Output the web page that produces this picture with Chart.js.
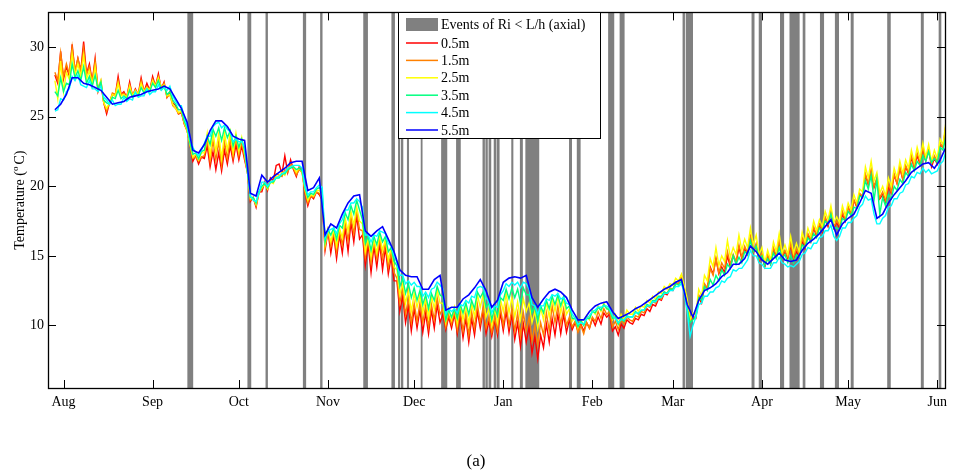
<!DOCTYPE html>
<html>
<head>
<meta charset="utf-8">
<script src="https://cdn.jsdelivr.net/npm/chart.js@4.4.0/dist/chart.umd.min.js"></script>
<style>
  html, body { margin: 0; padding: 0; background: #fff; }
  canvas { display: block; }
</style>
</head>
<body>
<canvas id="chart" width="953" height="476"></canvas>
<script>
const FONT = '"Liberation Serif", "Times New Roman", serif';

// x = days since 1 Aug, first sample 3 days before; shallow sensors read daily, 5.5m every 2 days
const dayStart = -3;

const t05 = [
  28.0,27.4,29.7,27.7,28.6,27.9,30.2,28.2,29.2,28.3,30.4,28.1,28.8,27.5,29.2,26.8,27.4,26.0,25.2,26.0,
  26.6,26.5,27.9,26.6,26.8,26.4,27.5,26.5,27.0,26.6,27.8,26.8,27.4,26.9,27.9,27.2,28.1,27.0,27.5,26.4,
  26.8,26.0,25.8,25.2,25.3,24.5,24.0,23.0,21.8,22.2,21.6,22.1,22.0,22.9,21.4,22.5,21.2,22.4,21.1,22.6,
  21.6,22.9,21.8,23.0,21.9,22.9,21.9,21.0,18.9,19.2,18.5,19.6,19.6,20.3,19.7,20.6,20.4,21.5,21.6,20.9,
  22.2,21.0,21.9,21.2,20.7,21.4,21.2,19.5,18.6,19.3,19.1,19.6,19.4,19.0,15.4,16.8,15.2,16.5,14.8,16.5,
  15.2,17.0,15.3,17.4,16.0,17.9,16.2,16.5,14.3,15.8,13.8,15.7,14.2,15.9,14.0,15.6,13.7,14.9,13.2,13.2,
  11.0,12.1,10.2,11.4,9.6,11.2,9.8,11.1,9.5,10.9,9.4,11.1,9.8,11.5,10.2,10.8,9.7,10.6,9.8,10.8,
  9.4,10.7,9.1,10.5,8.8,10.5,9.3,11.0,9.8,11.1,9.4,10.3,9.2,10.4,9.3,10.9,9.6,11.0,9.5,10.8,
  9.0,10.2,8.5,10.1,8.8,9.9,8.0,9.2,7.6,9.3,8.4,10.1,8.8,10.5,9.3,10.8,9.4,10.8,9.5,10.4,
  9.7,10.2,9.6,10.1,9.6,10.2,9.8,10.5,10.0,10.6,10.1,10.9,10.6,10.8,9.6,9.9,9.3,10.1,9.8,10.4,
  10.2,10.1,10.5,10.4,10.8,10.7,11.2,11.0,11.5,11.4,11.9,11.8,12.3,12.2,12.6,12.5,13.0,13.0,13.6,12.6,
  11.7,10.3,10.5,10.5,12.0,11.6,12.8,12.7,14.2,13.7,14.8,13.7,14.2,13.8,15.0,14.2,15.0,14.5,15.6,14.8,
  15.5,15.1,16.3,15.2,15.7,14.6,15.0,14.2,14.9,14.4,15.4,14.9,16.0,14.9,15.3,14.8,15.8,14.8,15.3,14.9,
  16.0,15.5,16.5,16.0,17.0,16.4,17.2,16.7,17.6,17.1,18.1,17.0,17.4,17.0,18.0,17.5,18.5,18.0,19.0,18.5,
  19.4,19.2,20.8,20.1,21.1,19.9,20.5,19.1,19.4,18.8,20.0,19.5,20.8,20.2,21.3,20.5,21.4,20.9,22.1,21.3,
  22.2,21.6,22.8,21.8,22.6,21.4,22.0,21.6,23.0,22.8,24.4
];
const t15 = [
  28.2,27.6,29.6,27.9,28.8,28.1,30.0,28.3,29.2,28.3,29.9,28.0,28.6,27.5,29.0,27.0,27.6,26.0,25.4,26.0,
  26.7,26.6,27.6,26.6,26.7,26.4,27.3,26.5,26.9,26.6,27.6,26.8,27.2,26.9,27.7,27.2,27.9,27.1,27.4,26.4,
  26.6,25.8,25.6,25.2,25.4,24.5,24.0,23.0,22.0,22.1,21.8,22.1,22.2,23.5,21.8,23.3,21.9,23.2,21.5,23.2,
  22.0,23.4,22.1,23.5,22.2,23.2,22.1,21.0,19.0,19.1,18.6,19.5,19.8,20.2,19.8,20.4,20.3,20.9,20.8,20.7,
  21.2,21.0,21.6,21.3,20.8,21.2,21.0,19.6,18.8,19.3,19.2,19.6,19.5,19.1,15.6,16.8,15.7,16.7,15.3,16.8,
  15.8,17.4,16.1,17.8,16.6,18.2,16.9,16.8,14.9,16.2,14.5,16.1,14.8,16.2,14.8,16.0,14.2,15.3,13.8,13.4,
  11.6,12.6,10.8,11.9,10.2,11.6,10.3,11.6,10.2,11.4,9.9,11.5,10.4,12.0,10.8,11.2,9.9,10.8,10.1,11.0,
  9.7,11.1,9.6,10.9,9.3,11.0,9.8,11.5,10.2,11.3,9.8,10.6,9.5,10.6,9.6,11.3,10.0,11.5,10.0,11.2,
  9.6,10.9,9.2,10.9,9.6,10.6,8.9,10.0,8.6,10.2,9.3,10.9,9.6,11.4,10.2,11.4,10.1,11.2,10.0,10.6,
  9.9,10.3,9.5,10.0,9.4,10.2,9.8,10.6,10.3,11.0,10.5,11.2,10.8,11.0,9.9,10.3,9.7,10.4,10.1,10.6,
  10.4,10.3,10.7,10.6,11.0,10.9,11.4,11.3,11.7,11.6,12.0,11.9,12.4,12.3,12.7,12.6,13.1,13.0,13.5,12.5,
  11.6,10.3,10.6,10.6,12.2,11.8,13.0,12.7,14.1,13.6,14.8,13.8,14.5,14.1,15.3,14.4,15.1,14.6,15.8,14.9,
  15.7,15.2,16.4,15.3,15.9,14.7,15.2,14.4,15.1,14.5,15.6,15.0,16.1,15.0,15.4,14.9,15.9,14.9,15.5,15.1,
  16.3,15.8,16.6,16.2,17.1,16.5,17.3,16.9,17.8,17.3,18.2,17.1,17.5,17.2,18.2,17.6,18.5,18.0,19.0,18.6,
  19.5,19.3,20.9,20.2,21.2,20.0,20.6,19.2,19.6,19.0,20.2,19.6,20.9,20.2,21.4,20.5,21.5,21.0,22.2,21.4,
  22.4,21.7,22.8,21.9,22.7,21.6,22.2,21.8,23.1,22.8,24.2
];
const t25 = [
  27.6,26.3,29.0,26.8,28.2,27.7,29.5,28.0,28.8,27.9,29.4,27.7,28.3,27.3,28.6,26.9,27.6,26.0,25.6,26.0,
  26.6,26.5,27.4,26.5,26.6,26.4,27.2,26.5,26.9,26.6,27.4,26.8,27.1,26.9,27.6,27.2,27.8,27.1,27.3,26.5,
  26.6,25.9,25.6,25.3,25.4,24.6,24.0,23.0,22.1,22.3,21.9,22.4,22.4,23.8,22.2,23.9,22.5,23.8,22.0,23.8,
  22.6,23.9,22.4,23.8,22.5,23.5,22.3,21.0,19.1,19.2,18.7,19.6,19.9,20.2,19.8,20.3,20.2,20.7,20.7,21.0,
  20.8,21.3,21.4,21.4,21.0,21.3,21.0,19.8,19.0,19.4,19.3,19.7,19.7,19.3,15.8,16.9,16.0,16.9,15.7,17.0,
  16.3,17.7,16.8,18.2,17.2,18.5,17.5,17.3,15.3,16.3,14.9,16.2,15.2,16.5,15.4,16.2,14.7,15.6,14.2,14.0,
  12.2,13.0,11.6,12.5,11.0,12.3,11.3,12.2,10.9,12.0,10.6,12.1,11.2,12.6,11.6,11.6,10.2,11.2,10.4,11.3,
  10.1,11.6,10.4,11.5,10.1,11.6,10.6,12.2,11.3,12.2,10.6,11.2,10.0,11.2,10.2,11.9,11.0,12.3,10.9,12.0,
  10.6,11.7,10.4,11.9,11.0,11.6,10.2,11.0,9.8,11.3,10.4,11.7,10.6,12.0,11.0,12.1,10.9,11.9,10.8,11.2,
  10.3,10.6,9.8,10.4,10.0,10.7,10.4,11.1,10.8,11.4,11.0,11.6,11.2,11.3,10.4,10.8,10.1,10.8,10.4,11.1,
  10.8,10.8,11.3,11.0,11.4,11.3,11.8,11.6,12.1,11.9,12.4,12.3,12.8,12.6,13.0,12.9,13.4,13.2,13.7,12.8,
  11.9,10.4,10.9,10.8,12.6,12.1,13.6,13.2,14.8,14.2,15.6,14.3,15.0,14.6,16.1,14.9,15.6,15.1,16.5,15.4,
  16.2,15.6,17.0,15.8,16.5,15.1,15.6,14.5,15.4,14.7,16.0,15.3,16.6,15.2,15.8,15.1,16.4,15.2,15.9,15.3,
  16.7,16.0,17.0,16.4,17.5,16.8,17.6,17.1,18.2,17.6,18.6,17.4,17.8,17.4,18.6,17.9,18.8,18.3,19.4,18.8,
  19.8,19.6,21.4,20.6,21.8,20.4,21.0,19.5,20.0,19.3,20.6,20.0,21.3,20.6,21.8,20.9,21.9,21.3,22.6,21.7,
  22.8,22.0,23.1,22.1,23.0,21.8,22.6,22.0,23.4,23.0,24.6
];
const t35 = [
  26.8,26.5,27.8,26.8,27.4,27.3,28.8,27.8,28.3,27.6,28.6,27.4,27.9,27.2,28.0,27.0,27.5,26.2,26.0,25.9,
  26.4,26.3,26.9,26.3,26.5,26.3,26.9,26.4,26.7,26.5,27.1,26.7,27.0,26.8,27.4,27.1,27.6,27.0,27.2,26.6,
  26.8,26.2,25.9,25.5,25.5,24.7,24.2,23.1,22.3,22.4,22.0,22.5,22.6,23.6,23.0,24.1,23.6,24.2,23.3,24.2,
  23.5,24.0,22.9,23.6,22.8,23.4,22.6,21.0,19.2,19.2,18.8,19.6,20.0,20.2,19.9,20.3,20.3,20.6,20.6,20.9,
  20.9,21.2,21.3,21.4,21.2,21.3,21.1,19.9,19.2,19.5,19.4,19.8,19.9,19.6,16.0,16.9,16.5,17.0,16.2,17.2,
  17.0,18.1,17.6,18.6,18.0,19.0,18.3,17.6,15.9,16.4,15.4,16.4,15.8,16.7,16.0,16.4,15.3,15.6,14.6,14.3,
  12.8,13.4,12.3,13.0,12.0,12.7,11.8,12.5,11.5,12.2,11.2,12.3,11.8,12.8,12.2,12.0,10.4,11.1,10.6,11.2,
  10.5,11.5,10.9,11.6,10.8,11.8,11.2,12.4,12.0,12.4,11.3,11.6,10.4,11.3,10.7,12.0,11.8,12.6,11.9,12.7,
  12.0,12.6,11.6,12.7,12.2,12.2,10.9,11.4,10.3,11.4,10.9,11.8,11.2,12.1,11.5,12.2,11.4,12.1,11.2,11.4,
  10.5,10.5,9.9,10.3,10.0,10.5,10.5,11.0,10.9,11.3,11.1,11.5,11.2,11.1,10.5,10.6,10.1,10.5,10.3,10.7,
  10.6,10.6,11.0,10.8,11.1,11.1,11.5,11.4,11.8,11.8,12.1,12.1,12.4,12.3,12.6,12.6,13.0,12.9,13.2,12.4,
  11.2,10.2,10.4,10.6,12.0,11.8,12.8,12.5,13.3,12.9,13.6,13.2,14.0,13.6,14.4,14.1,15.0,14.4,14.9,14.5,
  15.3,15.1,16.1,15.3,15.7,14.8,15.0,14.3,14.8,14.4,15.2,14.8,15.6,14.8,15.1,14.5,15.0,14.5,15.1,14.9,
  15.8,15.6,16.3,16.0,16.6,16.3,17.0,16.8,17.5,17.3,18.0,17.0,17.0,16.9,17.7,17.5,18.2,17.9,18.5,18.4,
  19.3,19.2,20.4,19.8,20.8,19.0,20.5,18.0,19.2,18.6,19.4,19.1,20.0,19.7,20.5,20.2,21.0,20.7,21.6,21.1,
  21.8,21.5,22.2,21.8,22.5,21.7,22.0,21.7,22.8,22.6,23.6
];
const t45 = [
  25.4,25.5,26.3,26.2,26.8,27.0,27.9,27.6,28.0,27.3,27.2,27.1,27.6,27.0,27.0,26.8,27.2,26.4,26.2,25.9,
  26.2,25.8,25.9,25.9,26.4,26.1,26.3,26.2,26.8,26.4,26.5,26.5,27.0,26.6,26.8,26.8,27.3,26.9,27.1,26.9,
  27.2,26.5,26.1,25.8,25.8,25.0,24.3,23.4,22.8,22.4,22.2,22.6,23.1,23.6,23.6,24.3,24.5,24.6,24.2,24.4,
  24.1,23.9,23.2,23.4,23.2,23.2,22.8,21.2,19.3,19.0,18.9,19.5,20.3,20.3,20.0,20.3,20.4,20.6,20.7,20.9,
  21.0,21.3,21.4,21.5,21.5,21.5,21.3,20.0,19.4,19.6,19.6,19.9,20.1,19.9,16.3,16.8,16.9,17.0,16.6,17.3,
  17.6,18.3,18.3,18.8,18.8,19.1,18.9,18.5,16.5,16.5,16.0,16.5,16.4,16.8,16.7,16.6,15.9,15.7,15.0,14.5,
  13.6,13.6,13.0,13.2,12.9,13.1,12.8,12.8,12.1,12.4,12.0,12.6,12.7,13.1,12.9,12.6,10.8,11.2,11.0,11.2,
  10.9,11.5,11.4,11.8,11.6,12.1,12.0,12.7,12.8,12.7,12.0,11.7,10.9,11.4,11.3,12.2,12.5,13.0,12.8,13.1,
  12.9,13.1,12.7,13.1,13.0,12.6,11.5,11.4,10.8,11.4,11.4,11.9,11.8,12.2,12.1,12.3,11.9,12.0,11.6,11.5,
  10.8,10.5,10.1,10.2,10.1,10.5,10.7,11.0,11.1,11.3,11.3,11.4,11.4,11.2,10.7,10.5,10.2,10.4,10.4,10.6,
  10.6,10.6,10.9,10.9,11.1,11.1,11.4,11.4,11.7,11.7,12.0,12.0,12.3,12.3,12.5,12.5,12.8,12.8,13.0,12.3,
  11.0,9.2,10.0,10.6,11.5,11.6,12.1,12.1,12.4,12.4,12.7,12.8,13.2,13.1,13.4,13.5,14.0,13.9,14.1,14.1,
  14.4,14.7,15.4,15.0,15.0,14.5,14.4,14.1,14.1,14.1,14.5,14.5,14.9,14.5,14.4,14.2,14.3,14.2,14.4,14.6,
  15.1,15.2,15.6,15.5,15.9,15.9,16.3,16.4,16.8,16.8,17.2,16.4,16.1,16.4,17.0,17.0,17.4,17.4,17.7,17.9,
  18.5,18.7,19.3,19.0,19.1,18.0,17.3,17.3,17.7,17.9,18.5,18.6,19.1,19.1,19.5,19.6,20.1,20.2,20.7,20.6,
  21.0,20.9,21.3,21.0,21.2,20.9,21.0,21.1,21.6,21.8,22.5
];
const t55 = [
  25.5,25.9,26.6,27.8,27.8,27.4,27.3,27.1,26.9,26.4,
  25.9,26.0,26.1,26.4,26.5,26.6,26.8,26.9,27.0,27.2,
  27.0,26.3,25.6,24.6,22.6,22.4,23.0,24.0,24.7,24.7,
  24.3,23.6,23.4,23.3,19.5,19.3,20.8,20.3,20.7,21.0,
  21.3,21.7,21.8,21.8,19.7,19.9,20.6,16.5,17.3,17.0,
  18.0,18.8,19.3,19.4,16.8,16.4,16.8,17.1,16.2,15.3,
  14.0,13.6,13.5,13.5,12.6,12.6,13.3,13.6,11.1,11.3,
  11.3,11.9,12.2,12.7,13.3,12.5,11.3,11.8,13.1,13.4,
  13.5,13.4,13.6,12.0,11.3,11.9,12.4,12.6,12.4,12.0,
  11.1,10.4,10.4,11.0,11.4,11.6,11.7,11.0,10.5,10.7,
  10.9,11.2,11.4,11.7,12.0,12.3,12.6,12.8,13.1,13.3,
  11.5,10.6,11.8,12.5,12.7,13.0,13.5,13.8,14.4,14.4,
  14.8,15.7,15.3,14.7,14.4,14.8,15.2,14.7,14.6,14.7,
  15.4,15.9,16.2,16.6,17.1,17.6,16.5,17.3,17.7,18.0,
  18.8,19.7,19.5,17.7,18.0,18.8,19.4,19.9,20.4,21.0,
  21.3,21.6,21.7,21.3,21.9,22.8
];

// Ri < L/h events, [start day, end day]
const events = [
  [43.2,45.0],[64.1,65.2],[70.4,71.0],[83.4,84.3],[89.4,90.0],[104.4,105.8],
  [114.2,115.2],[116.5,117.0],[117.5,118.1],[119.6,120.1],[124.4,124.8],
  [131.5,133.4],[136.7,138.1],[145.9,146.5],[146.9,147.5],[148.0,148.7],
  [149.8,150.5],[150.9,151.6],[155.9,156.4],[158.9,159.7],[160.8,165.4],
  [176.0,176.8],[178.7,179.8],[189.6,191.5],[193.6,195.1],[215.5,216.1],
  [216.6,218.9],[239.5,240.3],[242.0,242.9],[249.4,250.6],[252.7,256.0],
  [257.3,258.0],[263.3,264.5],[268.5,269.7],[274.0,274.8],[286.7,287.7],
  [298.4,299.2],[304.6,305.3]
];

const monthLabels = ['Aug','Sep','Oct','Nov','Dec','Jan','Feb','Mar','Apr','May','Jun'];
const monthDays   = [0, 31, 61, 92, 122, 153, 184, 212, 243, 273, 304];
const yTicks = [10, 15, 20, 25, 30];

const depthLabels = ['0.5m','1.5m','2.5m','3.5m','4.5m','5.5m'];
const depthColors = ['#ff0000','#ff8000','#ffff00','#00ff80','#00ffff','#0000ff'];
const depthSteps  = [1, 1, 1, 1, 1, 2];
const depthWidths = [1.4, 1.4, 1.4, 1.4, 1.4, 1.6];
const eventLabel = 'Events of Ri < L/h (axial)';
const eventColor = '#808080';

const series = [t05, t15, t25, t35, t45, t55];
const toPoints = (vals, step) => vals.map((v, i) => ({ x: dayStart + i * step, y: v }));

// box, inward ticks, legend, axis title, panel label
const framePlugin = {
  id: 'frame',
  afterDraw(chart) {
    const { ctx, chartArea: a, scales: { x, y } } = chart;
    ctx.save();
    ctx.strokeStyle = '#000';
    ctx.lineWidth = 1;
    ctx.beginPath();
    monthDays.forEach(d => {
      const px = Math.round(x.getPixelForValue(d)) + 0.5;
      ctx.moveTo(px, a.bottom); ctx.lineTo(px, a.bottom - 8);
      ctx.moveTo(px, a.top);    ctx.lineTo(px, a.top + 8);
    });
    yTicks.forEach(v => {
      const py = Math.round(y.getPixelForValue(v)) + 0.5;
      ctx.moveTo(a.left, py);  ctx.lineTo(a.left + 8, py);
      ctx.moveTo(a.right, py); ctx.lineTo(a.right - 8, py);
    });
    ctx.stroke();
    ctx.lineWidth = 1.3;
    ctx.strokeRect(Math.round(a.left) + 0.5, Math.round(a.top) + 0.5,
                   Math.round(a.right - a.left), Math.round(a.bottom - a.top));

    // legend
    const lx = 398.5, ly = 12.5, lw = 202, lh = 126, row = 17.4;
    ctx.fillStyle = '#fff';
    ctx.fillRect(lx, ly, lw, lh);
    ctx.lineWidth = 1;
    ctx.strokeRect(lx, ly, lw, lh);
    ctx.font = '14px ' + FONT;
    ctx.textBaseline = 'middle';
    ctx.textAlign = 'left';
    ctx.fillStyle = eventColor;
    ctx.fillRect(406, 18, 32, 13);
    ctx.fillStyle = '#000';
    ctx.fillText(eventLabel, 441, 25);
    depthLabels.forEach((lab, i) => {
      const yy = 43 + i * row;
      ctx.strokeStyle = depthColors[i];
      ctx.lineWidth = 1.5;
      ctx.beginPath(); ctx.moveTo(406, yy); ctx.lineTo(438, yy); ctx.stroke();
      ctx.fillStyle = '#000';
      ctx.fillText(lab, 441, yy + 1);
    });

    // y title with superscript o
    ctx.save();
    ctx.translate(19, (a.top + a.bottom) / 2);
    ctx.rotate(-Math.PI / 2);
    ctx.textBaseline = 'alphabetic';
    const p1 = 'Temperature (', p3 = 'C)';
    ctx.font = '14px ' + FONT;
    const w1 = ctx.measureText(p1).width, w3 = ctx.measureText(p3).width;
    ctx.font = '9px ' + FONT;
    const w2 = ctx.measureText('o').width + 2;
    const sx = -(w1 + w2 + w3) / 2;
    ctx.font = '14px ' + FONT;
    ctx.fillText(p1, sx, 5);
    ctx.font = '9px ' + FONT;
    ctx.fillText('o', sx + w1, -1);
    ctx.font = '14px ' + FONT;
    ctx.fillText(p3, sx + w1 + w2, 5);
    ctx.restore();

    ctx.font = '17px ' + FONT;
    ctx.textAlign = 'center';
    ctx.fillStyle = '#000';
    ctx.fillText('(a)', 476, 462);
    ctx.restore();
  }
};

const datasets = series.map((vals, i) => ({
  type: 'line',
  label: depthLabels[i],
  data: toPoints(vals, depthSteps[i]),
  borderColor: depthColors[i],
  borderWidth: depthWidths[i],
  pointRadius: 0,
  tension: 0,
  order: 5 - i,
  xAxisID: 'x',
  yAxisID: 'y'
}));
datasets.push({
  type: 'bar',
  label: eventLabel,
  indexAxis: 'y',
  data: events.map(ev => ({ x: ev, y: 'ev' })),
  backgroundColor: eventColor,
  borderWidth: 0,
  barPercentage: 1,
  categoryPercentage: 1,
  order: 10,
  xAxisID: 'x',
  yAxisID: 'yEv'
});

new Chart(document.getElementById('chart'), {
  type: 'line',
  data: { datasets },
  options: {
    responsive: false,
    animation: false,
    devicePixelRatio: 1,
    layout: { padding: { left: 0, right: 2, top: 7, bottom: 0 } },
    plugins: { legend: { display: false }, tooltip: { enabled: false } },
    scales: {
      x: {
        type: 'linear',
        min: -5.4, max: 306.7,
        grid: { display: false, drawTicks: false },
        border: { display: false },
        afterBuildTicks: s => { s.ticks = monthDays.map(v => ({ value: v })); },
        ticks: {
          padding: 6,
          maxRotation: 0,
          autoSkip: false,
          color: '#000',
          font: { family: FONT, size: 14 },
          callback: v => monthLabels[monthDays.indexOf(v)]
        },
        afterFit: s => { s.height = 88; }
      },
      y: {
        type: 'linear',
        min: 5.5, max: 32.5,
        grid: { display: false, drawTicks: false },
        border: { display: false },
        afterBuildTicks: s => { s.ticks = yTicks.map(v => ({ value: v })); },
        ticks: { padding: 4, color: '#000', font: { family: FONT, size: 14 } },
        afterFit: s => { s.width = 48; }
      },
      yEv: {
        type: 'category',
        labels: ['ev'],
        offset: true,
        display: false,
        position: 'right'
      }
    }
  },
  plugins: [framePlugin]
});
</script>
</body>
</html>
